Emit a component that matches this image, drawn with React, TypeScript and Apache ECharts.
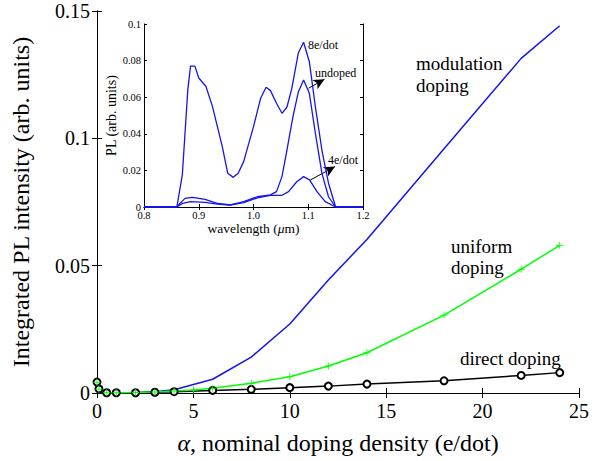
import React, { useEffect, useRef } from "react";
import * as echarts from "echarts";

// Main chart data
const xTicks = [0, 5, 10, 15, 20, 25];
const modX = [0, 0.5, 1, 2, 3, 4, 6, 8, 10, 12, 14, 18, 22, 24];
const modY = [0.0002, 0.0001, 0.0001, 0.0002, 0.0005, 0.0013, 0.0054, 0.0141, 0.0271, 0.0444, 0.0603, 0.0959, 0.1314, 0.1442];
const uniX = [0, 0.1, 0.5, 1, 2, 3, 4, 5, 6, 8, 10, 12, 14, 18, 22, 24];
const uniY = [0.0042, 0.0015, 0.0001, 0.0001, 0.0002, 0.0004, 0.0008, 0.0012, 0.0019, 0.0038, 0.0064, 0.0106, 0.0158, 0.0306, 0.0486, 0.058];
const dirX = [0, 0.1, 0.5, 1, 2, 3, 4, 6, 8, 10, 12, 14, 18, 22, 24];
const dirY = [0.0043, 0.0016, 0.0001, 0.0001, 0.0001, 0.0003, 0.0005, 0.001, 0.00145, 0.0021, 0.0027, 0.0035, 0.0048, 0.0069, 0.008];

// Inset data
const wl8 = [0.8, 0.86, 0.87, 0.88, 0.885, 0.893, 0.9, 0.913, 0.925, 0.943, 0.953, 0.963, 0.972, 0.982, 1.0, 1.013, 1.023, 1.031, 1.042, 1.052, 1.061, 1.07, 1.082, 1.0915, 1.102, 1.113, 1.125, 1.137, 1.15, 1.2];
const pl8 = [0, 0, 0.0175, 0.064, 0.077, 0.077, 0.0705, 0.066, 0.055, 0.033, 0.0184, 0.0162, 0.0184, 0.0248, 0.0439, 0.0594, 0.0654, 0.0636, 0.0567, 0.0512, 0.0545, 0.0648, 0.0843, 0.09, 0.0794, 0.0548, 0.031, 0.013, 0, 0];
const wlUn = [0.8, 0.86, 0.867, 0.875, 0.8885, 0.9115, 0.934, 0.958, 0.982, 1.007, 1.031, 1.042, 1.052, 1.061, 1.072, 1.082, 1.0915, 1.102, 1.113, 1.125, 1.137, 1.15, 1.2];
const plUn = [0, 0, 0.0024, 0.0047, 0.0053, 0.0042, 0.002, 0.0011, 0.0029, 0.0056, 0.0066, 0.0084, 0.0166, 0.031, 0.0493, 0.063, 0.0694, 0.0621, 0.0403, 0.0184, 0.0056, 0, 0];
const wl4 = [0.8, 0.86, 0.87, 0.885, 0.9115, 0.934, 0.958, 0.982, 1.007, 1.031, 1.052, 1.064, 1.079, 1.0915, 1.1024, 1.116, 1.131, 1.15, 1.2];
const pl4 = [0, 0, 0.002, 0.0029, 0.0025, 0.0016, 0.0011, 0.0024, 0.005, 0.0064, 0.0064, 0.0084, 0.0138, 0.0166, 0.0148, 0.0084, 0.0029, 0, 0];

const FONT = "'Liberation Serif', 'Times New Roman', serif";
const BLUE = "#1414f0";
const GREEN = "#00ff00";

const pairs = (xs: number[], ys: number[]) => xs.map((x, i) => [x, ys[i]]);

const PLUS = "path://M-0.12,-1H0.12V-0.12H1V0.12H0.12V1H-0.12V0.12H-1V-0.12H-0.12Z";

export default function App() {
  const ref = useRef<HTMLDivElement>(null);
  useEffect(() => {
    if (!ref.current) return;
    const chart = echarts.init(ref.current, null, { renderer: "svg" });
    const axisLine = { show: true, lineStyle: { color: "#000", width: 1 } };
    const tickIn = { show: true, inside: true, length: 5, lineStyle: { color: "#000" } };
    const tickInSmall = { show: true, inside: true, length: 3, lineStyle: { color: "#000" } };
    const mainLabel = { fontSize: 20, fontFamily: FONT, color: "#000" };
    const insetLabel = { fontSize: 10.5, fontFamily: FONT, color: "#000" };
    const txt = (x: number, y: number, s: string, size: number) => ({
      type: "text",
      x,
      y,
      style: { text: s, fontSize: size, fontFamily: FONT, fill: "#000", align: "left", verticalAlign: "middle" },
      z: 100,
    });
    const option: any = {
      animation: false,
      backgroundColor: "#fff",
      textStyle: { fontFamily: FONT },
      grid: [
        { left: 97, top: 11, width: 482, height: 382, show: false },
        { left: 144, top: 24, width: 219, height: 183, show: true, backgroundColor: "#fff", borderWidth: 0, z: 5 },
      ],
      xAxis: [
        {
          type: "value", gridIndex: 0, min: 0, max: 25, interval: 5, position: "bottom",
          axisLine, axisTick: tickIn, splitLine: { show: false },
          axisLabel: { ...mainLabel, margin: 8, formatter: (v: number) => String(v) },
          name: "{a|α}, nominal doping density (e/dot)",
          nameLocation: "middle", nameGap: 38,
          nameTextStyle: { fontSize: 24, fontFamily: FONT, color: "#000", rich: { a: { fontSize: 24, fontFamily: FONT, fontStyle: "italic" } } },
        },
        {
          type: "value", gridIndex: 0, min: 0, max: 25, interval: 5, position: "top",
          axisLine, axisTick: tickIn, splitLine: { show: false }, axisLabel: { show: false },
        },
        {
          type: "value", gridIndex: 1, min: 0.8, max: 1.2, interval: 0.1, position: "bottom", z: 6,
          axisLine, axisTick: tickInSmall, splitLine: { show: false },
          axisLabel: { ...insetLabel, margin: 3, formatter: (v: number) => v.toFixed(1) },
          name: "wavelength ({m|μ}m)", nameLocation: "middle", nameGap: 12,
          nameTextStyle: { fontSize: 13.5, fontFamily: FONT, color: "#000", rich: { m: { fontSize: 13.5, fontFamily: FONT, fontStyle: "italic" } } },
        },
        {
          type: "value", gridIndex: 1, min: 0.8, max: 1.2, interval: 0.1, position: "top", z: 6,
          axisLine, axisTick: tickInSmall, splitLine: { show: false }, axisLabel: { show: false },
        },
      ],
      yAxis: [
        {
          type: "value", gridIndex: 0, min: 0, max: 0.15, interval: 0.05, position: "left",
          axisLine, axisTick: tickIn, splitLine: { show: false },
          axisLabel: { ...mainLabel, margin: 7, formatter: (v: number) => String(parseFloat(v.toFixed(2))) },
          name: "Integrated PL intensity (arb. units)", nameLocation: "middle", nameGap: 64,
          nameTextStyle: { fontSize: 24, fontFamily: FONT, color: "#000" },
        },
        {
          type: "value", gridIndex: 0, min: 0, max: 0.15, interval: 0.05, position: "right",
          axisLine, axisTick: tickIn, splitLine: { show: false }, axisLabel: { show: false },
        },
        {
          type: "value", gridIndex: 1, min: 0, max: 0.1, interval: 0.02, position: "left", z: 6,
          axisLine, axisTick: tickInSmall, splitLine: { show: false },
          axisLabel: { ...insetLabel, margin: 3, formatter: (v: number) => String(parseFloat(v.toFixed(2))) },
          name: "PL (arb. units)", nameLocation: "middle", nameGap: 24,
          nameTextStyle: { fontSize: 14, fontFamily: FONT, color: "#000" },
        },
        {
          type: "value", gridIndex: 1, min: 0, max: 0.1, interval: 0.02, position: "right", z: 6,
          axisLine, axisTick: tickInSmall, splitLine: { show: false }, axisLabel: { show: false },
        },
      ],
      series: [
        {
          type: "line", xAxisIndex: 0, yAxisIndex: 0, data: pairs(modX, modY),
          showSymbol: false, symbol: "none", lineStyle: { color: BLUE, width: 1.5 }, itemStyle: { color: BLUE },
        },
        {
          type: "line", xAxisIndex: 0, yAxisIndex: 0, data: pairs(dirX, dirY),
          symbol: "emptyCircle", symbolSize: 7,
          lineStyle: { color: "#000", width: 1.5 }, itemStyle: { color: "#000", borderColor: "#000", borderWidth: 1.5 },
        },
        {
          type: "line", xAxisIndex: 0, yAxisIndex: 0, data: pairs(uniX, uniY),
          symbol: PLUS, symbolSize: 7,
          lineStyle: { color: GREEN, width: 1.5 }, itemStyle: { color: GREEN, borderWidth: 0 },
        },
        {
          type: "line", xAxisIndex: 2, yAxisIndex: 2, data: pairs(wl8, pl8), z: 7,
          symbol: "none", lineStyle: { color: BLUE, width: 1.3 },
        },
        {
          type: "line", xAxisIndex: 2, yAxisIndex: 2, data: pairs(wlUn, plUn), z: 7,
          symbol: "none", lineStyle: { color: BLUE, width: 1.3 },
        },
        {
          type: "line", xAxisIndex: 2, yAxisIndex: 2, data: pairs(wl4, pl4), z: 7,
          symbol: "none", lineStyle: { color: BLUE, width: 1.3 },
          markLine: {
            silent: true, symbol: ["none", "arrow"], symbolSize: [8, 11],
            label: { show: false },
            lineStyle: { color: "#000", width: 1, type: "solid" },
            data: [
              [{ coord: [1.1006, 0.0649] }, { coord: [1.1296, 0.0698] }],
              [{ coord: [1.1036, 0.0147] }, { coord: [1.149, 0.0221] }],
            ],
          },
        },
      ],
      graphic: [
        txt(416, 63, "modulation", 19),
        txt(416, 85, "doping", 19),
        txt(451, 246, "uniform", 19),
        txt(451, 267, "doping", 19),
        txt(460, 358, "direct doping", 19),
        txt(308, 45, "8e/dot", 12),
        txt(315, 73, "undoped", 12),
        txt(328, 160, "4e/dot", 12),
      ],
    };
    chart.setOption(option);
    return () => chart.dispose();
  }, []);
  return <div ref={ref} style={{ width: 606, height: 461, position: "absolute", left: 0, top: 0 }} />;
}
